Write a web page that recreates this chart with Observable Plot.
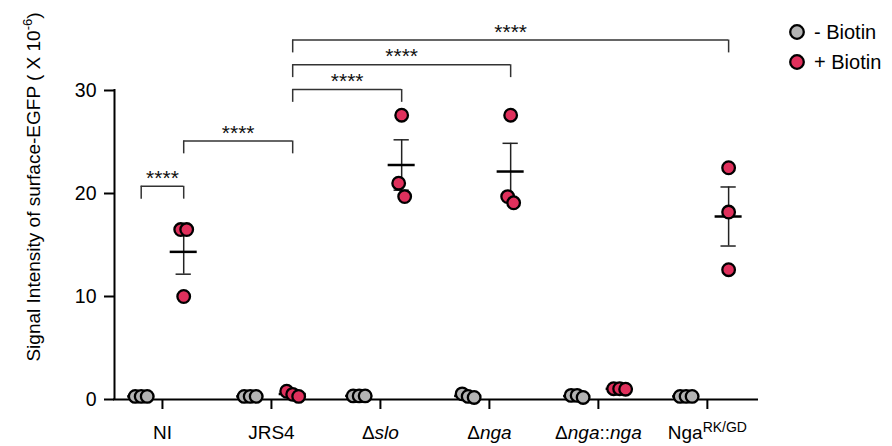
<!DOCTYPE html>
<html><head><meta charset="utf-8">
<script src="https://cdn.jsdelivr.net/npm/d3@7"></script>
<script src="https://cdn.jsdelivr.net/npm/@observablehq/plot@0.6"></script>
<style>
body{margin:0;background:#fff;}
#wrap{position:relative;width:892px;height:446px;}
</style></head><body><div id="wrap"></div>
<script>
// ---- data ----
const groups = ["NI", "JRS4", "Δslo", "Δnga", "Δnga::nga", "NgaRK/GD"];
const tickMarkup = ["NI", "JRS4", "Δ<i>slo</i>", "Δ<i>nga</i>", "Δ<i>nga</i>::<i>nga</i>", "Nga<sup>RK/GD</sup>"];
const conditions = ["- Biotin", "+ Biotin"];
const colors = ["#b3b3b3", "#e0305c"];
const minusBiotin = [[0.3,0.3,0.3],[0.3,0.3,0.3],[0.35,0.35,0.35],[0.55,0.3,0.2],[0.4,0.4,0.2],[0.3,0.3,0.3]];
const plusBiotin  = [[16.5,16.5,10.0],[0.8,0.5,0.3],[27.6,21.0,19.7],[27.6,19.7,19.1],[1.05,1.05,1.0],[22.5,18.2,12.6]];
const yTicks = [0, 10, 20, 30];
// significance comparisons: [group, condition] pairs
const compFrom  = [[0,0],[0,1],[1,1],[1,1],[1,1]];
const compTo    = [[0,1],[1,1],[2,1],[3,1],[5,1]];
const compLevel = [20.7, 25.1, 30.1, 32.5, 34.9];
const compLabel = ["****","****","****","****","****"];
const yLabel = ["Signal Intensity of surface-EGFP ( X 10", "-6", ")"];

// ---- layout helpers ----
const xDomain = [-0.44, 5.46];
const condOffset = [-0.195, 0.195];
const dodgeStep = 0.055;
const meanHalf = 0.124, capHalf = 0.07, legLen = 1.25;
const xOf = (g, c) => g + condOffset[c];

const rows = [];
const summary = [];
[minusBiotin, plusBiotin].forEach((series, c) => {
  series.forEach((vals, g) => {
    const sorted = vals.slice().sort((a, b) => b - a);
    const clusters = [];
    sorted.forEach(v => {
      const last = clusters[clusters.length - 1];
      if (last && last[last.length - 1] - v < 1.4) last.push(v); else clusters.push([v]);
    });
    clusters.forEach(cl => cl.forEach((v, i) => rows.push({g, c, cond: conditions[c], v, x: xOf(g, c) + (i - (cl.length - 1) / 2) * dodgeStep})));
    const m = d3.mean(vals), sem = d3.deviation(vals) / Math.sqrt(vals.length);
    summary.push({g, c, x: xOf(g, c), mean: m, lo: m - sem, hi: m + sem});
  });
});
const caps = summary.flatMap(d => [{x: d.x, y: d.lo}, {x: d.x, y: d.hi}]);
const brackets = compLevel.map((lv, i) => ({xa: xOf(...compFrom[i]), xb: xOf(...compTo[i]), level: lv, label: compLabel[i]}));
const legs = brackets.flatMap(b => [{x: b.xa, level: b.level}, {x: b.xb, level: b.level}]);

const svg = Plot.plot({
  width: 892, height: 446,
  marginLeft: 114, marginRight: 135, marginTop: 90, marginBottom: 47,
  style: {fontFamily: "Arial, 'Liberation Sans', sans-serif", fontSize: "19px", color: "#000", background: "#fff"},
  x: {domain: xDomain},
  y: {domain: [0, 30]},
  color: {type: "ordinal", domain: conditions, range: colors},
  marks: [
    Plot.axisY({ticks: yTicks, tickSize: 10, tickPadding: 8, fontSize: 19.5, strokeWidth: 2, label: null}),
    Plot.axisX({ticks: d3.range(groups.length), tickFormat: i => groups[i], tickSize: 10, tickPadding: 16, fontSize: 19, strokeWidth: 2, label: null}),
    Plot.ruleX([xDomain[0]], {x: d => d, y1: 0, y2: 30, stroke: "#000", strokeWidth: 2, strokeLinecap: "square"}),
    Plot.ruleY([0], {y: d => d, x1: xDomain[0], x2: xDomain[1], stroke: "#000", strokeWidth: 2, strokeLinecap: "square"}),
    // brackets
    Plot.ruleY(brackets, {y: "level", x1: "xa", x2: "xb", stroke: "#333", strokeWidth: 1.5}),
    Plot.ruleX(legs, {x: "x", y1: d => d.level - legLen, y2: "level", stroke: "#333", strokeWidth: 1.5}),
    Plot.text(brackets, {x: d => (d.xa + d.xb) / 2, y: "level", text: "label", dy: -8, fontSize: 21, fill: "#111"}),
    // mean & SEM
    Plot.ruleX(summary, {x: "x", y1: "lo", y2: "hi", stroke: "#222", strokeWidth: 1.5}),
    Plot.ruleY(caps, {y: "y", x1: d => d.x - capHalf, x2: d => d.x + capHalf, stroke: "#222", strokeWidth: 1.5}),
    Plot.ruleY(summary, {y: "mean", x1: d => d.x - meanHalf, x2: d => d.x + meanHalf, stroke: "#000", strokeWidth: 2.5}),
    // points
    Plot.dot(rows, {x: "x", y: "v", r: 6.3, fill: "cond", stroke: "#000", strokeWidth: 2.3})
  ]
});
document.getElementById("wrap").appendChild(svg);

// rich tick labels (italic / superscript)
const toTspans = s => s
  .replace(/<i>(.*?)<\/i>/g, '<tspan font-style="italic">$1</tspan>')
  .replace(/<sup>(.*?)<\/sup>/g, '<tspan font-size="14" dy="-7">$1</tspan>');
d3.select(svg).selectAll('g[aria-label="x-axis tick label"] text').each(function(d, i) {
  this.innerHTML = toTspans(tickMarkup[i]);
});

const s = d3.select(svg);
// y label
const yl = s.append("text")
  .attr("transform", "translate(40,187) rotate(-90)")
  .attr("text-anchor", "middle")
  .attr("font-size", 19)
  .attr("fill", "#000");
yl.append("tspan").text(yLabel[0]);
yl.append("tspan").attr("font-size", 13).attr("dy", -8).text(yLabel[1]);
yl.append("tspan").attr("dy", 8).text(yLabel[2]);

// legend
const lg = s.append("g").attr("text-anchor", "start");
conditions.forEach((c, i) => {
  lg.append("circle").attr("cx", 797).attr("cy", 32 + i * 30).attr("r", 6.8)
    .attr("fill", colors[i]).attr("stroke", "#000").attr("stroke-width", 2.3);
  lg.append("text").attr("x", 814).attr("y", 39 + i * 30).attr("font-size", 20)
    .attr("text-anchor", "start").attr("fill", "#000").text(c);
});
</script>
</body></html>
